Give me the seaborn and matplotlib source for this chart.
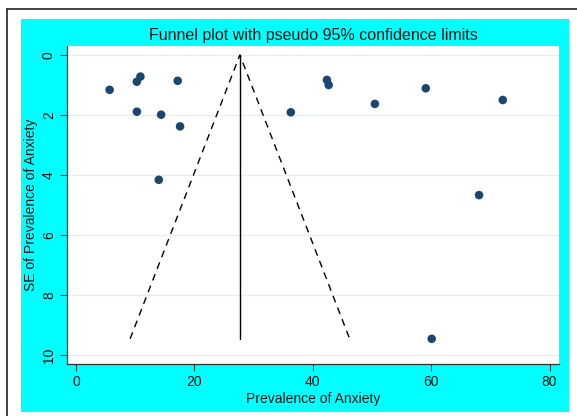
import matplotlib
matplotlib.use("Agg")
import matplotlib.pyplot as plt
import seaborn as sns
import pandas as pd
import numpy as np
from matplotlib.lines import Line2D
from matplotlib.patches import Rectangle

# study estimates
prevalence = [5.7, 10.3, 10.9, 17.2, 10.3, 14.4, 17.6, 14.0,
              36.3, 42.4, 42.7, 50.5, 59.1, 72.1, 68.1, 60.1]
se = [1.16, 0.89, 0.72, 0.86, 1.89, 1.99, 2.38, 4.16,
      1.91, 0.83, 1.00, 1.63, 1.11, 1.50, 4.67, 9.46]
pooled = 27.7
x_ticks = [0, 20, 40, 60, 80]
y_ticks = [0, 2, 4, 6, 8, 10]

df = pd.DataFrame({"prev": prevalence, "se": se})

sns.set_style("white")
plt.rcParams["font.family"] = ["Liberation Sans", "DejaVu Sans"]

fig = plt.figure(figsize=(5.77, 4.16), dpi=100)
fig.patch.set_facecolor("white")

# cyan graph region + black frame lines
fig.patches.append(Rectangle((21 / 577, 1 - 412 / 416), 548 / 577, 393 / 416,
                             transform=fig.transFigure, facecolor="#00ffff",
                             edgecolor="none", zorder=-5))
fig.add_artist(Line2D([6.7 / 577, 6.7 / 577], [0, 1 - 9 / 416], color="#222222", lw=1.2,
                      transform=fig.transFigure))
fig.add_artist(Line2D([6.7 / 577, 1], [1 - 9 / 416, 1 - 9 / 416], color="#222222", lw=1.2,
                      transform=fig.transFigure))

ax = fig.add_axes([67 / 577, 1 - 364 / 416, 492 / 577, 318 / 416])
ax.set_zorder(2)
ax.set_facecolor("white")

max_se = df["se"].max()
lo = pooled - 1.96 * max_se
hi = pooled + 1.96 * max_se
ax.plot([pooled, pooled], [0, max_se], color="black", lw=1.0, zorder=2)
ax.plot([lo, pooled, hi], [max_se, 0, max_se], color="black", lw=1.0,
        linestyle=(0, (5, 4)), zorder=2)

sns.scatterplot(data=df, x="prev", y="se", ax=ax, color="#1a476f", s=38,
                edgecolor="none", zorder=3)

ax.set_xlim(-1.5, 81.6)
ax.set_ylim(10.3, -0.3)
ax.set_xticks(x_ticks)
ax.set_yticks(y_ticks)
ax.yaxis.grid(True, color="#e8eef0", lw=1.0)
ax.xaxis.grid(False)
ax.set_axisbelow(True)

for s in ["top", "right"]:
    ax.spines[s].set_visible(False)
for s in ["left", "bottom"]:
    ax.spines[s].set_color("#333333")
    ax.spines[s].set_linewidth(0.9)

ax.tick_params(axis="both", direction="out", length=5, width=0.8, color="#333333",
               labelsize=10, labelcolor="#111111", pad=3,
               left=True, bottom=True)
for lab in ax.get_yticklabels():
    lab.set_rotation(90)
    lab.set_va("center")

ax.set_xlabel("Prevalence of Anxiety", fontsize=10, color="#111111", labelpad=2)
ax.set_ylabel("SE of Prevalence of Anxiety", fontsize=10, color="#111111", labelpad=3)
ax.set_title("Funnel plot with pseudo 95% confidence limits", fontsize=11.5,
             color="#111111", pad=4)

fig.savefig("out.png", dpi=100)
